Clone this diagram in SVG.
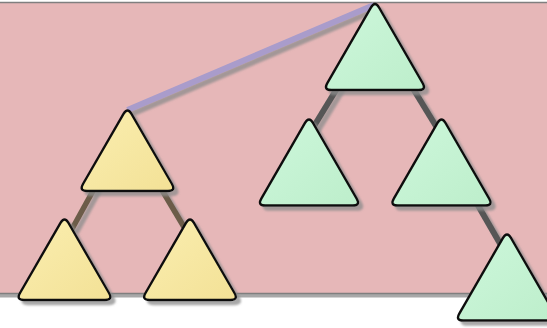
<svg xmlns="http://www.w3.org/2000/svg" width="547" height="328" viewBox="0 0 547 328">
<defs>
<filter id="sh" x="-20%" y="-20%" width="150%" height="150%">
<feGaussianBlur in="SourceAlpha" stdDeviation="0.8" result="b"/>
<feOffset in="b" dx="4" dy="4" result="o"/>
<feFlood flood-color="#8c8c8c" flood-opacity="0.75"/>
<feComposite in2="o" operator="in" result="s"/>
<feMerge><feMergeNode in="s"/><feMergeNode in="SourceGraphic"/></feMerge>
</filter>
<linearGradient id="gy" x1="0" y1="0" x2="1" y2="1">
<stop offset="0" stop-color="#faeeb0"/><stop offset="1" stop-color="#f3e196"/>
</linearGradient>
<linearGradient id="gg" x1="0" y1="0" x2="1" y2="1">
<stop offset="0" stop-color="#cdf7db"/><stop offset="1" stop-color="#bdeecb"/>
</linearGradient>
<path id="ty" d="M -4,6.9 Q 0,0 4,6.9 L 44.5,77 Q 48.5,84 40.5,84 L -40.5,84 Q -48.5,84 -44.5,77 Z"/>
<path id="tg" d="M -4,6.9 Q 0,0 4,6.9 L 47.7,82.6 Q 51.7,89.5 43.7,89.5 L -43.7,89.5 Q -51.7,89.5 -47.7,82.6 Z"/>
</defs>
<style>
.bg{fill:#e6b7b8;stroke:#7f7f7f;stroke-width:1.5}
.y{fill:url(#gy);stroke:#111;stroke-width:2.4}
.g{fill:url(#gg);stroke:#111;stroke-width:2.4}
.ey{stroke:#6c5c48;stroke-width:5.5;fill:none}
.eg{stroke:#565656;stroke-width:6;fill:none}
.ep{stroke:#a99ccb;stroke-width:6;fill:none}
</style>
<rect x="-6" y="6.5" width="560" height="291" fill="#a8a8a8"/>
<rect class="bg" x="-6" y="2.5" width="560" height="291"/>
<g id="connectors" filter="url(#sh)">
<line class="ep" x1="127.5" y1="110" x2="374" y2="5"/>
<line class="ey" x1="99" y1="180" x2="72" y2="229"/>
<line class="ey" x1="156" y1="180" x2="184" y2="227"/>
<line class="eg" x1="341" y1="82" x2="311" y2="131"/>
<line class="eg" x1="409" y1="82" x2="439" y2="131"/>
<line class="eg" x1="472" y1="195" x2="502" y2="247"/>
</g>
<g id="y1" filter="url(#sh)"><use href="#ty" class="y" transform="translate(127.5,107)"/></g>
<g id="y2" filter="url(#sh)"><use href="#ty" class="y" transform="translate(64.5,216)"/></g>
<g id="y3" filter="url(#sh)"><use href="#ty" class="y" transform="translate(190,216)"/></g>
<g id="g1" filter="url(#sh)"><use href="#tg" class="g" transform="translate(375,0.5)"/></g>
<g id="g2" filter="url(#sh)"><use href="#tg" class="g" transform="translate(309,116)"/></g>
<g id="g3" filter="url(#sh)"><use href="#tg" class="g" transform="translate(441.5,116)"/></g>
<g id="g4" filter="url(#sh)"><use href="#tg" class="g" transform="translate(507,231)"/></g>
</svg>
